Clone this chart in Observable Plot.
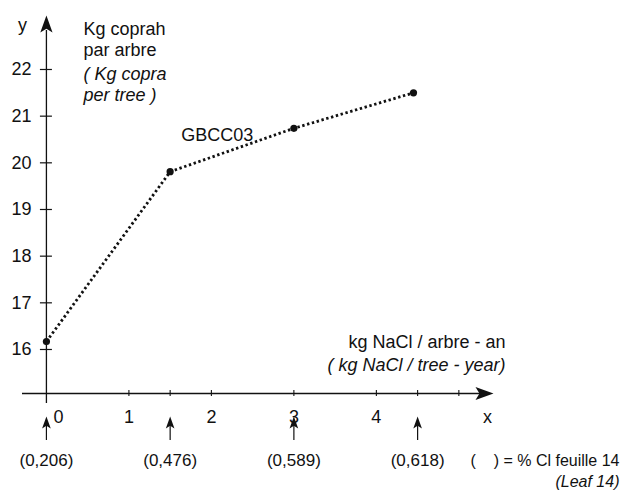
<!DOCTYPE html>
<html><head><meta charset="utf-8">
<script src="https://cdn.jsdelivr.net/npm/d3@7"></script>
<script src="https://cdn.jsdelivr.net/npm/@observablehq/plot@0.6"></script>
<style>body{margin:0;background:#fff} svg{display:block}</style>
</head><body><div id="chart"></div>
<script>
// ---- data ----
const naclDose   = [0, 1.5, 3, 4.45];           // kg NaCl / arbre - an
const copraYield = [16.17, 19.81, 20.74, 21.5];  // Kg coprah par arbre
const leafCl     = ["(0,206)", "(0,476)", "(0,589)", "(0,618)"];
const leafClAt   = [0, 1.5, 3, 4.5];
const xTickLabels = [0, 1, 2, 3, 4];
const xTickMarks  = [1, 1.5, 2, 3, 4, 4.5, 5];
const yTicks      = [16, 17, 18, 19, 20, 21, 22];
const seriesName  = "GBCC03";
const yLabelLines = ["Kg coprah", "par arbre", "( Kg copra", "per tree )"];
const xLabelLines = ["kg NaCl / arbre - an", "( kg NaCl / tree - year)"];

// ---- axis extents (data units) ----
const XL = -0.29, XR = 5.42, Y0 = 15.057, YT = 23.157;
const ink = "#111";
const font = "Liberation Sans, Arial, Helvetica, sans-serif";

const data = naclDose.map((x, i) => ({x, y: copraYield[i]}));

const arrowHead = {
  draw(ctx, size) {
    const L = Math.sqrt(size / Math.PI) * 2;
    ctx.moveTo(0, -L / 2);
    ctx.lineTo(L * 0.36, L / 2);
    ctx.lineTo(0, L * 0.28);
    ctx.lineTo(-L * 0.36, L / 2);
    ctx.closePath();
  }
};

const T = (o) => ({fill: ink, fontFamily: font, fontSize: 18, ...o});

const chart = Plot.plot({
  width: 621, height: 490,
  marginTop: 0, marginRight: 0, marginBottom: 0, marginLeft: 0,
  style: {background: "#fff", fontFamily: font},
  x: {domain: [XL, XR], range: [22, 493], axis: null},
  y: {domain: [Y0, YT], range: [393, 15], axis: null},
  marks: [
    // axes
    Plot.ruleY([Y0], {x1: XL, x2: XR, insetRight: 10, stroke: ink, strokeWidth: 1.3}),
    Plot.ruleX([0], {y1: Y0, y2: YT, insetTop: 10, insetBottom: -15, stroke: ink, strokeWidth: 1.3}),
    Plot.ruleY(yTicks, {y: d => d, x1: 0, x2: 0, insetLeft: -6, insetRight: -6, stroke: ink, strokeWidth: 1.2}),
    Plot.ruleX(xTickMarks, {x: d => d, y1: Y0, y2: Y0, insetTop: -3, insetBottom: -3, stroke: ink, strokeWidth: 1.1}),
    Plot.dot([0], {x: XR, y: Y0, dx: -9, r: 9, rotate: 90, symbol: arrowHead, fill: ink, stroke: "none"}),
    Plot.dot([0], {x: 0, y: YT, dy: 8.5, r: 8.5, symbol: arrowHead, fill: ink, stroke: "none"}),
    // tick labels
    Plot.text(yTicks, T({x: 0, y: d => d, text: d => String(d), dx: -15, textAnchor: "end", lineAnchor: "middle"})),
    Plot.text(xTickLabels.filter(d => d === 0), T({x: d => d, y: Y0, text: d => String(d), dx: 7, dy: 29, textAnchor: "start", lineAnchor: "bottom"})),
    Plot.text(xTickLabels.filter(d => d !== 0), T({x: d => d, y: Y0, text: d => String(d), dy: 29, lineAnchor: "bottom"})),
    Plot.text(["x"], T({x: XR, y: Y0, text: d => d, dx: -6, dy: 29, lineAnchor: "bottom"})),
    Plot.text(["y"], T({x: 0, y: YT, text: d => d, dx: -24, dy: 15, lineAnchor: "bottom"})),
    // axis titles
    ...yLabelLines.map((s, i) => Plot.text([s], T({x: 0, y: YT, text: d => d, dx: 37, dy: [19, 40, 64, 85][i],
      textAnchor: "start", lineAnchor: "bottom", fontStyle: i >= 2 ? "italic" : "normal"}))),
    ...xLabelLines.map((s, i) => Plot.text([s], T({x: XR, y: Y0, text: d => d, dx: 12, dy: [-46, -23][i],
      textAnchor: "end", lineAnchor: "bottom", fontStyle: i === 1 ? "italic" : "normal"}))),
    // series
    Plot.line(data, {x: "x", y: "y", stroke: ink, strokeWidth: 2.8, strokeDasharray: "2.4,2.6", strokeLinecap: "butt"}),
    Plot.dot(data, {x: "x", y: "y", r: 3.6, fill: ink, stroke: "none"}),
    Plot.text([data[1]], T({x: "x", y: "y", text: () => seriesName, dx: 11, dy: -31, textAnchor: "start", lineAnchor: "bottom"})),
    // leaf Cl markers
    Plot.ruleX(leafClAt, {x: d => d, y1: Y0, y2: Y0, insetTop: 28, insetBottom: -47, stroke: ink, strokeWidth: 1.2}),
    Plot.dot(leafClAt, {x: d => d, y: Y0, dy: 29, r: 6, symbol: arrowHead, fill: ink, stroke: "none"}),
    Plot.text(leafCl, T({x: (d, i) => leafClAt[i], y: Y0, text: d => d, dy: 72, lineAnchor: "bottom", fontSize: 17})),
    Plot.text(["(\u00a0\u00a0\u00a0\u00a0) = % Cl feuille 14"], T({x: XR, y: Y0, text: d => d, dx: 126, dy: 72, textAnchor: "end", lineAnchor: "bottom", fontSize: 16})),
    Plot.text(["(Leaf 14)"], T({x: XR, y: Y0, text: d => d, dx: 126, dy: 93, textAnchor: "end", lineAnchor: "bottom", fontSize: 16, fontStyle: "italic"}))
  ]
});
document.getElementById("chart").append(chart);
</script>
</body></html>
